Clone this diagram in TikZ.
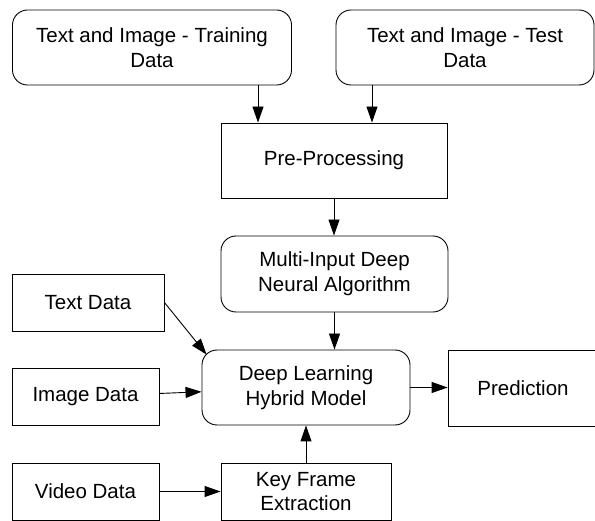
\documentclass[tikz,border=0pt]{standalone}
\usepackage{fontspec}
\setmainfont{Liberation Sans}
\usetikzlibrary{arrows.meta,calc}
\begin{document}
\begin{tikzpicture}[x=1pt,y=-1pt,
  base/.style={draw=black,line width=0.9pt,inner sep=0pt,align=center,
    font=\fontsize{20.5}{24.6}\selectfont},
  rbox/.style={base,rounded corners=15pt},
  sbox/.style={base},
  arr/.style={draw=black,line width=0.9pt,-{Triangle[length=16pt,width=11pt]}}]
\useasboundingbox (0,0) rectangle (595,521);
\node[rbox,minimum width=279pt,minimum height=75pt] (train) at (152,47.5) {Text and Image - Training\\Data};
\node[rbox,minimum width=258pt,minimum height=75pt] (test) at (465,47.5) {Text and Image - Test\\Data};
\node[sbox,minimum width=226pt,minimum height=75pt] (pre) at (334,160.5) {Pre-Processing};
\node[rbox,minimum width=227pt,minimum height=76pt] (multi) at (334.5,274) {Multi-Input Deep\\Neural Algorithm};
\node[sbox,minimum width=152pt,minimum height=57pt] (txt) at (88,302.5) {Text Data};
\node[sbox,minimum width=147pt,minimum height=57pt] (img) at (85.5,396.5) {Image Data};
\node[rbox,minimum width=208pt,minimum height=75pt] (dl) at (306,387.5) {Deep Learning\\Hybrid Model};
\node[sbox,minimum width=150pt,minimum height=76pt] (pred) at (523,388) {Prediction};
\node[sbox,minimum width=147pt,minimum height=57pt] (video) at (85.5,491.5) {Video Data};
\node[sbox,minimum width=170pt,minimum height=57pt] (key) at (306,491.5) {Key Frame\\Extraction};
\draw[arr] ([xshift=106pt]train.south) -- ([xshift=106pt]train.south |- pre.north);
\draw[arr] ([xshift=-93pt]test.south) -- ([xshift=-93pt]test.south |- pre.north);
\draw[arr] (pre.south) -- (pre.south |- multi.north);
\draw[arr] (multi.south) -- (multi.south |- dl.north);
\draw[arr] (txt.east) -- ([xshift=5pt,yshift=-5pt]dl.north west);
\draw[arr] (img) -- (dl);
\draw[arr] (dl.east) -- (dl.east -| pred.west);
\draw[arr] (video.east) -- (video.east -| key.west);
\draw[arr] (key.north) -- (dl.south);
\end{tikzpicture}
\end{document}
